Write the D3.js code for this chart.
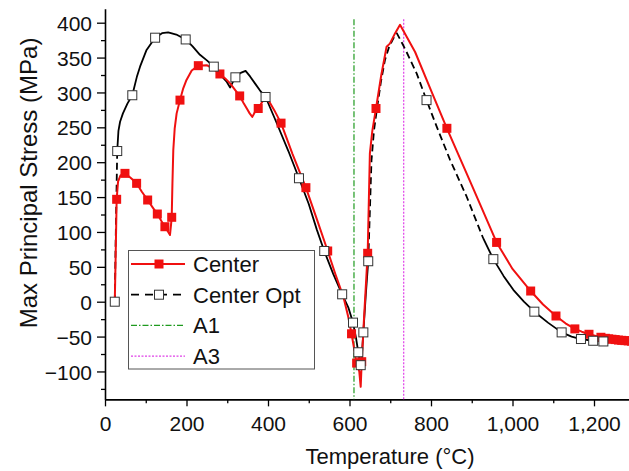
<!DOCTYPE html>
<html>
<head>
<meta charset="utf-8">
<script src="https://cdn.jsdelivr.net/npm/d3@7/dist/d3.min.js"></script>
<style>
  body { margin: 0; background: #fff; }
  svg { display: block; font-family: "Liberation Sans", Arial, sans-serif; }
</style>
</head>
<body>
<div id="chart"></div>
<script>
(function () {
    'use strict';

    // Center (red, filled squares) - curve points
    var centerT = [24, 26, 28.6, 32, 38, 49, 62, 77.6, 90, 104.7, 116, 128.4, 138, 147, 154, 159.5, 162, 163.7,
        165.5, 167.6, 171, 175.8, 184, 192, 200, 212.8, 229, 249.6, 265, 282, 295, 307, 320, 330.5, 340, 348,
        355, 361.5, 368, 376, 388.5, 400.8, 415, 432, 460, 493, 520, 546.5, 565, 585, 597, 605, 611, 617.5,
        624, 627.5, 630, 636, 644.6, 650, 656, 665, 678, 691, 699, 712, 724, 742, 761, 800, 839, 900, 961,
        1000, 1044.6, 1075, 1106.7, 1130, 1153, 1170, 1187.7, 1217, 1240, 1260, 1280, 1300];
    var centerS = [0, 60, 146.8, 172, 181, 184, 178, 169.7, 158, 145.8, 136, 125.7, 116, 107.5, 101, 95.6, 110, 121,
        170, 217.5, 248, 270, 289, 306, 318, 331.5, 338.4, 339, 334, 326.5, 320, 313, 303, 295, 285, 277,
        270, 265, 272, 277, 289, 289, 275, 256, 212, 163.5, 118, 72.7, 40, 7, -22, -46, -66, -88,
        -100, -122, -86, -20, 69.4, 212.7, 245, 277, 325, 365.6, 370, 385, 397, 378, 358, 303, 248.6, 167, 85,
        47, 15.3, -4, -20.5, -31, -39, -43, -46.7, -51, -53.5, -55, -56, -57];
    // Center - markers
    var centerMarkT = [28.6, 49, 77.6, 104.7, 128.4, 147, 163.7, 184, 229, 282, 330.5, 376, 432, 493, 546.5,
        605, 617.5, 630, 644.6, 665, 839, 961, 1044.6, 1106.7, 1153, 1187.7, 1217,
        1228, 1236, 1244, 1252, 1260, 1268, 1276, 1284, 1292, 1300];
    var centerMarkS = [146.8, 184, 169.7, 145.8, 125.7, 107.5, 121, 289, 338.4, 326.5, 295, 277, 256, 163.5, 72.7,
        -46, -88, -86, 69.4, 277, 248.6, 85, 15.3, -20.5, -39, -46.7, -51,
        -52.5, -53.2, -53.8, -54.3, -55, -55.4, -55.8, -56.2, -56.6, -57];

    // Center Opt (black, open squares) - curve points
    var optT = [24, 26, 28, 30, 33, 37, 44, 55, 67, 78, 86, 102, 123, 140, 155, 175, 198, 215, 233, 250, 267,
        285, 299, 307, 313, 320, 333, 345, 356, 368, 380, 394, 420, 450, 476, 500, 520, 538, 560, 582, 597,
        608.6, 616, 621.6, 627.5, 630, 634, 640, 646, 650, 654, 660, 667, 677, 687, 697, 707.6, 716, 728,
        740, 765, 789, 814, 847, 887.6, 928, 953, 978, 1002, 1028, 1053.6, 1087, 1120.6, 1145, 1168, 1198, 1223];
    var optS = [0, 80, 150, 216, 245, 258, 270, 284, 296, 322, 337, 361, 378.5, 385, 386, 383, 376, 366, 354, 346, 337,
        324, 315, 307, 314, 321.7, 328, 331, 323, 313, 303, 293.5, 258, 216, 177, 140, 103, 72.7, 40, 10.6, -8,
        -30, -52, -72.5, -91, -80, -44, 10, 58, 130, 203, 245, 275, 315, 346.5, 365, 377.6, 385, 372,
        358, 327, 289, 251, 203, 150.5, 91, 61, 37, 17, 0, -14.3, -30, -44, -50, -53.5, -56, -57];
    // Center Opt - markers
    var optMarkT = [24, 30, 67, 123, 198, 267, 320, 394, 476, 538, 582, 608.6, 621.6, 627.5, 634, 646,
        789, 953, 1053.6, 1120.6, 1168, 1198, 1223];
    var optMarkS = [0, 216, 296, 378.5, 376, 337, 321.7, 293.5, 177, 72.7, 10.6, -30, -72.5, -91, -44, 58,
        289, 61, -14.3, -44, -53.5, -56, -57];
    // temperature ranges where the Center Opt line shows its dash pattern
    var optDashed = [[24, 30], [646, 928]];

    var a1 = 611, a3 = 733;
    var xTicks = [0, 200, 400, 600, 800, 1000, 1200];
    var yTicks = [-100, -50, 0, 50, 100, 150, 200, 250, 300, 350, 400];

    var width = 629, height = 471;
    var svg = d3.select('#chart').append('svg')
        .attr('width', width).attr('height', height);

    var x = d3.scaleLinear().domain([0, 1300]).range([105, 634.75]);
    var y = d3.scaleLinear().domain([-140, 420]).range([399.35, 8.75]);

    var fmt = d3.format(',');

    // axes
    var xAxis = svg.append('g')
        .attr('transform', 'translate(0,' + y(-140) + ')')
        .call(d3.axisBottom(x).tickValues(xTicks).tickFormat(fmt).tickSize(7).tickSizeOuter(0));
    svg.append('g')
        .attr('transform', 'translate(0,' + y(-140) + ')')
        .call(d3.axisBottom(x).tickValues(d3.range(100, 1300, 200)).tickFormat('').tickSize(4).tickSizeOuter(0))
        .select('.domain').remove();
    var yAxis = svg.append('g')
        .attr('transform', 'translate(' + x(0) + ',0)')
        .call(d3.axisLeft(y).tickValues(yTicks).tickSize(8).tickSizeOuter(0));
    svg.append('g')
        .attr('transform', 'translate(' + x(0) + ',0)')
        .call(d3.axisLeft(y).tickValues(d3.range(-125, 400, 50)).tickFormat('').tickSize(4).tickSizeOuter(0))
        .select('.domain').remove();

    svg.selectAll('.domain').attr('stroke', '#000').attr('stroke-width', 1.6);
    svg.selectAll('.tick line').attr('stroke', '#000').attr('stroke-width', 1.3);
    xAxis.selectAll('text').attr('font-size', 21).attr('fill', '#111').attr('dy', null).attr('y', 32);
    yAxis.selectAll('text').attr('font-size', 21).attr('fill', '#111').attr('x', -13).attr('dy', '0.36em');
    svg.selectAll('.tick text').attr('font-family', '"Liberation Sans", Arial, sans-serif');

    // axis titles
    svg.append('text')
        .attr('x', 390).attr('y', 464)
        .attr('text-anchor', 'middle').attr('font-size', 22).attr('fill', '#111')
        .text('Temperature (°C)');
    svg.append('text')
        .attr('transform', 'translate(37,183) rotate(-90)')
        .attr('text-anchor', 'middle').attr('font-size', 24).attr('fill', '#111')
        .text('Max Principal Stress (MPa)');

    // A1 / A3 reference lines
    svg.append('line')
        .attr('x1', x(a1)).attr('x2', x(a1)).attr('y1', y(405)).attr('y2', y(-140))
        .attr('stroke', '#1f9a1f').attr('stroke-width', 1.2).attr('stroke-dasharray', '6,2,1.5,2');
    svg.append('line')
        .attr('x1', x(a3)).attr('x2', x(a3)).attr('y1', y(405)).attr('y2', y(-140))
        .attr('stroke', '#e040e8').attr('stroke-width', 1.2).attr('stroke-dasharray', '2,1.5');

    var line = d3.line()
        .x(function (d) { return x(d[0]); })
        .y(function (d) { return y(d[1]); });

    var centerData = centerT.map(function (t, i) { return [t, centerS[i]]; });
    var optData = optT.map(function (t, i) { return [t, optS[i]]; });

    // Center Opt line, split into solid / dashed runs
    var isDashed = function (t0, t1) {
        return optDashed.some(function (r) { return t0 >= r[0] && t1 <= r[1]; });
    };
    var runs = [], cur = null;
    for (var i = 1; i < optData.length; i++) {
        var dsh = isDashed(optData[i - 1][0], optData[i][0]);
        if (!cur || cur.dashed !== dsh) {
            cur = { dashed: dsh, pts: [optData[i - 1]] };
            runs.push(cur);
        }
        cur.pts.push(optData[i]);
    }
    svg.append('g').selectAll('path').data(runs).enter().append('path')
        .attr('d', function (r) { return line(r.pts); })
        .attr('fill', 'none').attr('stroke', '#000').attr('stroke-width', 1.8)
        .attr('stroke-linejoin', 'round')
        .attr('stroke-dasharray', function (r) { return r.dashed ? '7,4' : null; });

    // Center line
    svg.append('path')
        .datum(centerData)
        .attr('d', line)
        .attr('fill', 'none').attr('stroke', '#f01010').attr('stroke-width', 2)
        .attr('stroke-linejoin', 'round');

    // markers
    var ms = 9;
    svg.append('g').selectAll('rect')
        .data(centerMarkT.map(function (t, i) { return [t, centerMarkS[i]]; }))
        .enter().append('rect')
        .attr('x', function (d) { return x(d[0]) - ms / 2; })
        .attr('y', function (d) { return y(d[1]) - ms / 2; })
        .attr('width', ms).attr('height', ms)
        .attr('fill', '#f01010');
    svg.append('g').selectAll('rect')
        .data(optMarkT.map(function (t, i) { return [t, optMarkS[i]]; }))
        .enter().append('rect')
        .attr('x', function (d) { return x(d[0]) - ms / 2; })
        .attr('y', function (d) { return y(d[1]) - ms / 2; })
        .attr('width', ms).attr('height', ms)
        .attr('fill', '#fff').attr('stroke', '#333').attr('stroke-width', 1);

    // legend
    var lg = svg.append('g');
    lg.append('rect')
        .attr('x', 128.5).attr('y', 250.5).attr('width', 186).attr('height', 118.5)
        .attr('fill', '#fff').attr('stroke', '#555').attr('stroke-width', 1);
    var items = [
        { label: 'Center', color: '#f01010', dash: null, w: 2, mark: 'fill' },
        { label: 'Center Opt', color: '#000', dash: '8,6', w: 1.8, mark: 'open' },
        { label: 'A1', color: '#1f9a1f', dash: '6,2,1.5,2', w: 1.2, mark: null },
        { label: 'A3', color: '#e040e8', dash: '2,1.5', w: 1.2, mark: null }
    ];
    items.forEach(function (it, k) {
        var ly = 264 + k * 30.7;
        lg.append('line')
            .attr('x1', 131).attr('x2', 185).attr('y1', ly).attr('y2', ly)
            .attr('stroke', it.color).attr('stroke-width', it.w)
            .attr('stroke-dasharray', it.dash);
        if (it.mark) {
            lg.append('rect')
                .attr('x', 159 - ms / 2).attr('y', ly - ms / 2).attr('width', ms).attr('height', ms)
                .attr('fill', it.mark === 'fill' ? '#f01010' : '#fff')
                .attr('stroke', it.mark === 'fill' ? 'none' : '#333');
        }
        lg.append('text')
            .attr('x', 193).attr('y', ly + 8)
            .attr('font-size', 22).attr('fill', '#111')
            .text(it.label);
    });
})();
</script>
</body>
</html>
